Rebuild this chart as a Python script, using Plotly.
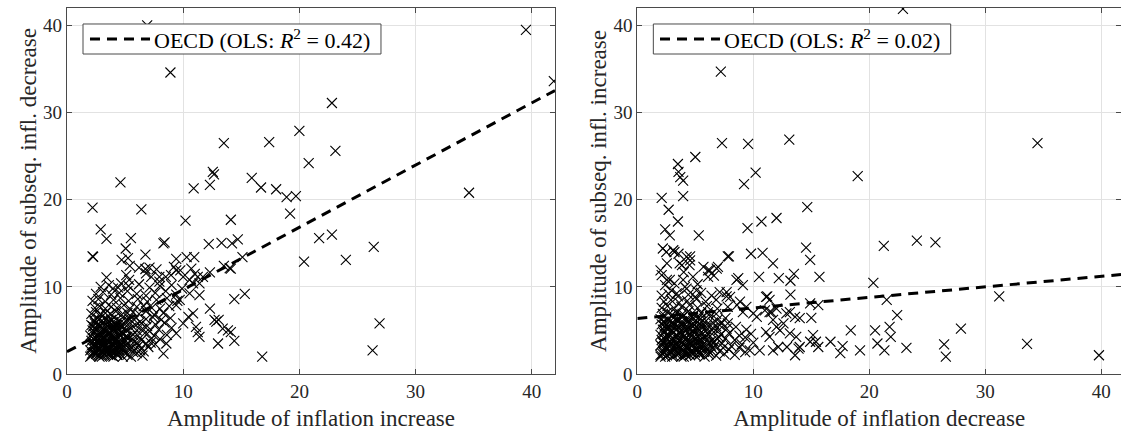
import plotly.graph_objects as go

# ---------------------------------------------------------------------------
# Episode amplitudes (percentage points)
# Left panel: inflation increase vs. amplitude of the subsequent decrease
# Right panel: inflation decrease vs. amplitude of the subsequent increase
# ---------------------------------------------------------------------------

inc_scattered = [
    (6.9, 40.0), (39.5, 39.5), (8.9, 34.6), (41.9, 33.6), (22.8, 31.1), (20.0, 27.9),
    (13.5, 26.5), (17.4, 26.6), (23.1, 25.6), (20.8, 24.2), (4.6, 22.0), (10.9, 21.3),
    (12.3, 21.7), (12.55, 23.2), (12.65, 22.9), (15.9, 22.5), (16.7, 21.4), (18.0, 21.2),
    (18.9, 20.3), (19.7, 20.4), (34.6, 20.8), (19.2, 18.4), (21.7, 15.6), (22.8, 16.0),
    (26.4, 14.6), (20.4, 12.9), (24.0, 13.1), (15.1, 13.4), (14.7, 15.45), (14.2, 15.0),
    (14.1, 17.7), (14.1, 12.1), (14.4, 8.6), (15.3, 9.2), (26.9, 5.8), (26.3, 2.7),
    (16.8, 2.0), (14.1, 4.8), (14.4, 3.8), (2.2, 19.1), (6.4, 18.9), (10.2, 17.6),
    (2.9, 16.6), (3.4, 15.5), (5.5, 15.6), (5.05, 14.4), (8.3, 15.0), (8.4, 15.1),
    (12.2, 14.9), (13.3, 15.05), (2.2, 13.5), (2.25, 13.45), (6.75, 13.7), (4.7, 13.1),
    (5.25, 13.3), (9.4, 13.2), (10.3, 13.4), (10.95, 13.4), (5.4, 12.4), (6.2, 12.2),
    (6.75, 12.05), (7.1, 12.2), (7.7, 12.0), (9.2, 12.3), (9.75, 11.9), (10.7, 12.1),
    (11.0, 11.5), (12.3, 11.65), (13.5, 12.4), (14.0, 12.15), (3.4, 11.1), (3.95, 9.8),
    (5.1, 11.35), (5.35, 10.8), (4.65, 10.4), (6.8, 11.55), (7.25, 11.15), (7.95, 11.15),
    (8.5, 11.15), (7.95, 10.6), (8.95, 11.35), (9.4, 11.9), (10.0, 11.15), (10.55, 10.8),
    (10.85, 10.4), (11.25, 11.15), (11.7, 11.15), (11.4, 10.4), (12.3, 7.5), (12.7, 6.2),
    (12.85, 6.0), (13.05, 6.2), (13.4, 5.2), (13.85, 5.0), (13.0, 3.5), (11.1, 5.4),
    (11.4, 4.25), (11.25, 4.8), (8.3, 2.35), (8.55, 3.5), (9.4, 4.65), (10.0, 5.8),
    (10.45, 6.55), (10.85, 6.95), (11.4, 9.05), (10.55, 9.25), (9.7, 8.5), (9.4, 7.9),
]

inc_cluster = [
    (2.1, 2.1), (2.5, 2.3), (2.8, 2.0), (3.2, 2.2), (3.6, 2.4), (3.9, 2.1), (4.3, 2.3),
    (4.8, 2.0), (5.2, 2.2), (5.7, 2.5),
    (2.0, 2.7), (2.3, 2.5), (2.7, 2.8), (3.0, 2.6), (3.4, 2.9), (3.8, 2.6), (4.1, 2.8),
    (4.5, 2.7), (4.9, 2.6), (5.4, 2.9), (6.0, 2.4), (6.6, 2.6),
    (2.2, 3.3), (2.5, 3.1), (2.9, 3.4), (3.3, 3.2), (3.6, 3.0), (4.0, 3.3), (4.4, 3.1),
    (4.7, 3.4), (5.1, 3.2), (5.6, 3.0), (6.2, 3.3), (7.0, 3.1), (7.6, 3.4),
    (2.1, 3.8), (2.4, 3.9), (2.8, 3.6), (3.1, 3.9), (3.5, 3.7), (3.9, 4.0), (4.2, 3.8),
    (4.6, 3.6), (5.0, 3.9), (5.3, 4.1), (5.8, 3.7), (6.4, 3.9), (7.2, 3.6), (8.0, 4.0),
    (2.0, 4.4), (2.3, 4.6), (2.6, 4.3), (3.0, 4.5), (3.4, 4.4), (3.7, 4.7), (4.1, 4.3),
    (4.5, 4.5), (4.8, 4.6), (5.2, 4.3), (5.7, 4.5), (6.1, 4.4), (6.7, 4.7), (7.5, 4.4),
    (8.6, 4.5),
    (2.2, 5.0), (2.5, 5.2), (2.9, 4.9), (3.2, 5.1), (3.6, 5.3), (4.0, 5.0), (4.3, 5.2),
    (4.7, 4.9), (5.1, 5.1), (5.5, 5.3), (6.0, 5.0), (6.5, 5.2), (7.1, 4.9), (7.9, 5.1),
    (9.0, 5.3),
    (2.1, 5.6), (2.4, 5.8), (2.8, 5.5), (3.1, 5.7), (3.5, 5.9), (3.9, 5.6), (4.2, 5.8),
    (4.6, 5.5), (5.0, 5.7), (5.4, 5.9), (5.9, 5.6), (6.4, 5.8), (6.9, 5.5), (7.6, 5.7),
    (8.4, 5.9),
    (2.3, 6.2), (2.6, 6.4), (3.0, 6.1), (3.4, 6.3), (3.8, 6.2), (4.1, 6.5), (4.5, 6.1),
    (4.9, 6.3), (5.3, 6.4), (5.8, 6.2), (6.3, 6.0), (6.8, 6.3), (7.4, 6.5), (8.1, 6.2),
    (8.9, 6.4),
    (2.1, 6.9), (2.5, 7.1), (2.9, 6.8), (3.3, 7.0), (3.7, 6.9), (4.2, 7.2), (4.7, 6.8),
    (5.2, 7.0), (5.7, 7.1), (6.2, 6.9), (6.8, 7.2), (7.5, 6.8), (8.3, 7.0),
    (2.4, 7.6), (2.8, 7.8), (3.3, 7.5), (3.8, 7.7), (4.3, 7.6), (4.9, 7.9), (5.4, 7.5),
    (6.0, 7.7), (6.6, 7.8), (7.3, 7.6), (8.0, 7.5), (8.8, 7.8),
    (2.2, 8.4), (2.7, 8.6), (3.3, 8.3), (4.0, 8.5), (4.6, 8.7), (5.3, 8.4), (6.1, 8.6),
    (6.9, 8.3), (7.7, 8.5), (8.6, 8.7), (9.5, 8.4),
    (2.5, 9.2), (3.1, 9.4), (3.8, 9.1), (4.5, 9.3), (5.2, 9.5), (6.0, 9.2), (6.8, 9.0),
    (7.6, 9.3), (8.5, 9.5), (9.4, 9.1),
    (2.9, 10.0), (3.6, 10.2), (4.4, 9.9), (5.3, 10.1), (6.2, 10.3), (7.1, 9.9), (8.0, 10.1),
    (9.0, 10.2), (9.9, 9.8),
]

# second, denser layer of the low-amplitude core
inc_core = [
    (2.3, 2.4), (2.7, 2.2), (3.1, 2.5), (3.5, 2.3), (3.9, 2.6), (4.3, 2.2), (2.2, 3.0),
    (2.6, 2.9), (3.0, 3.1), (3.4, 2.8), (3.8, 3.0), (4.2, 2.9), (4.6, 3.1), (2.4, 3.5),
    (2.8, 3.7), (3.2, 3.5), (3.6, 3.6), (4.0, 3.4), (4.4, 3.7), (2.5, 4.1), (2.9, 4.2),
    (3.3, 4.0), (3.7, 4.3), (4.1, 4.1),
    (2.15, 2.35), (2.55, 2.55), (2.95, 2.25), (3.35, 2.45), (3.75, 2.15), (4.15, 2.55),
    (4.55, 2.35), (4.95, 2.45), (2.35, 3.25), (2.75, 3.05), (3.15, 3.35), (3.55, 3.15),
    (3.95, 3.45), (4.35, 3.25), (4.75, 3.05), (5.15, 3.45), (2.25, 4.05), (2.65, 3.85),
    (3.05, 4.15), (3.45, 3.95), (3.85, 4.25), (4.25, 4.05), (4.65, 3.85), (5.05, 4.25),
    (2.35, 4.85), (2.75, 4.65), (3.15, 4.95), (3.55, 4.75), (3.95, 5.05), (4.35, 4.85),
    (4.75, 4.65), (5.15, 4.95), (2.25, 5.45), (2.65, 5.65), (3.05, 5.35), (3.45, 5.55),
    (3.85, 5.35), (4.25, 5.65), (4.65, 5.45), (2.35, 6.05), (2.75, 6.25), (3.15, 5.95),
    (3.55, 6.15), (3.95, 5.95), (5.6, 4.0), (6.0, 3.6), (5.9, 2.9), (6.3, 2.7),
    (6.8, 3.5), (7.3, 4.1), (5.5, 2.0), (6.5, 2.1), (2.0, 2.0), (3.0, 2.0), (4.0, 2.0),
]

dec_scattered = [
    (22.9, 41.9), (7.2, 34.7), (7.3, 26.5), (9.55, 26.4), (13.1, 26.9), (34.5, 26.5),
    (5.0, 24.9), (3.5, 24.1), (3.55, 23.2), (3.7, 22.6), (3.95, 22.2), (10.2, 23.1),
    (9.2, 21.8), (19.0, 22.7), (2.1, 20.2), (3.95, 20.4), (2.7, 18.85), (3.5, 17.5),
    (2.4, 16.6), (2.8, 15.9), (5.3, 15.9), (9.5, 16.75), (10.7, 17.5), (12.0, 17.9),
    (14.65, 19.15), (21.25, 14.7), (24.1, 15.3), (25.7, 15.1), (14.55, 14.5), (14.9, 13.1),
    (15.7, 11.15), (20.35, 10.45), (31.2, 8.9), (21.5, 8.5), (22.4, 6.75), (15.0, 6.45),
    (18.4, 5.0), (20.5, 5.0), (21.75, 5.4), (21.85, 4.25), (27.9, 5.2), (15.15, 4.45),
    (14.9, 3.7), (15.4, 3.7), (15.6, 3.1), (16.65, 3.7), (17.7, 3.2), (17.5, 2.4),
    (19.2, 2.7), (20.7, 3.5), (21.3, 2.7), (23.2, 3.0), (26.45, 3.4), (26.6, 2.0),
    (33.6, 3.45), (39.8, 2.15), (14.0, 6.4), (14.0, 3.1), (2.2, 14.4), (7.9, 13.5),
    (9.8, 13.8), (10.8, 13.9), (11.7, 12.7), (10.5, 11.15), (12.2, 11.0), (13.5, 11.5),
    (13.2, 10.7), (8.7, 11.0), (9.1, 10.2), (5.7, 12.3), (6.1, 11.9), (6.85, 12.1),
    (6.6, 11.3), (13.2, 9.1), (11.2, 8.9), (11.4, 8.5), (7.1, 9.4), (7.7, 8.9),
    (14.9, 8.1), (15.6, 7.9), (10.55, 2.7), (11.7, 2.7), (12.15, 3.1), (12.9, 3.1),
    (13.6, 2.15), (13.9, 2.9), (12.0, 5.4), (12.3, 5.0), (12.6, 5.8), (13.15, 4.65),
    (13.7, 4.25), (11.1, 4.8), (11.4, 4.25), (10.3, 6.55), (11.4, 7.1), (11.7, 6.2),
    (12.85, 6.95), (13.6, 6.55), (13.15, 7.1), (3.1, 14.2), (3.55, 13.8), (4.25, 13.45),
    (4.55, 13.5), (2.55, 12.7), (3.85, 12.5), (2.1, 11.35), (2.55, 10.8), (4.0, 11.7),
    (4.55, 13.05), (2.95, 9.6), (3.4, 9.25), (4.25, 9.8), (5.1, 9.6), (5.0, 8.85),
    (2.5, 14.0), (3.2, 14.0), (3.65, 12.7), (4.5, 12.5), (2.0, 11.9), (2.8, 10.8),
    (3.95, 10.8), (4.8, 11.15), (6.25, 11.9), (6.95, 12.3), (6.1, 11.15), (7.8, 13.5),
    (8.55, 10.8), (7.7, 9.4), (8.0, 8.85), (8.85, 8.3), (9.4, 7.7), (9.1, 7.1),
    (10.0, 6.95), (11.1, 8.85), (11.0, 7.3), (11.55, 7.1), (12.0, 7.5),
]

dec_cluster = [
    (2.0, 2.2), (2.4, 2.0), (2.7, 2.3), (3.1, 2.1), (3.5, 2.4), (3.8, 2.0), (4.2, 2.2),
    (4.6, 2.5), (5.0, 2.1), (5.4, 2.3), (5.8, 2.0), (6.3, 2.4), (6.8, 2.1), (7.5, 2.3),
    (8.4, 2.2), (9.3, 2.5),
    (2.2, 2.7), (2.5, 2.9), (2.9, 2.6), (3.3, 2.8), (3.6, 3.0), (4.0, 2.7), (4.4, 2.9),
    (4.8, 2.6), (5.2, 2.8), (5.6, 3.0), (6.1, 2.7), (6.5, 2.9), (7.1, 2.6), (7.9, 2.8),
    (8.8, 3.0), (9.7, 2.7),
    (2.0, 3.3), (2.3, 3.5), (2.7, 3.2), (3.0, 3.4), (3.4, 3.3), (3.8, 3.6), (4.1, 3.2),
    (4.5, 3.4), (4.9, 3.5), (5.3, 3.2), (5.7, 3.4), (6.2, 3.6), (6.7, 3.3), (7.3, 3.5),
    (8.1, 3.2), (9.0, 3.4), (10.0, 3.6),
    (2.1, 3.9), (2.5, 4.1), (2.8, 3.8), (3.2, 4.0), (3.6, 3.9), (3.9, 4.2), (4.3, 3.8),
    (4.7, 4.0), (5.1, 4.1), (5.5, 3.9), (5.9, 4.2), (6.4, 3.8), (6.9, 4.0), (7.6, 4.1),
    (8.4, 3.9), (9.3, 4.2),
    (2.0, 4.5), (2.3, 4.7), (2.6, 4.4), (3.0, 4.6), (3.4, 4.5), (3.7, 4.8), (4.1, 4.4),
    (4.5, 4.6), (4.9, 4.7), (5.3, 4.5), (5.7, 4.3), (6.1, 4.6), (6.6, 4.8), (7.2, 4.5),
    (7.9, 4.7), (8.8, 4.4), (9.8, 4.6),
    (2.2, 5.1), (2.5, 5.3), (2.9, 5.0), (3.2, 5.2), (3.6, 5.4), (4.0, 5.1), (4.4, 5.3),
    (4.8, 5.0), (5.2, 5.2), (5.6, 5.4), (6.0, 5.1), (6.5, 5.3), (7.0, 5.0), (7.7, 5.2),
    (8.5, 5.4), (9.4, 5.1),
    (2.1, 5.7), (2.4, 5.9), (2.8, 5.6), (3.1, 5.8), (3.5, 6.0), (3.9, 5.7), (4.3, 5.9),
    (4.7, 5.6), (5.1, 5.8), (5.5, 6.0), (6.0, 5.7), (6.5, 5.9), (7.1, 5.6), (7.8, 5.8),
    (2.0, 6.3), (2.3, 6.5), (2.7, 6.2), (3.1, 6.4), (3.5, 6.3), (3.9, 6.6), (4.3, 6.2),
    (4.8, 6.4), (5.3, 6.5), (5.8, 6.3), (6.3, 6.6), (6.9, 6.2), (7.6, 6.4),
    (2.2, 6.9), (2.6, 7.1), (3.0, 6.8), (3.4, 7.0), (3.9, 6.9), (4.4, 7.2), (4.9, 6.8),
    (5.5, 7.0), (6.1, 7.1), (6.8, 6.9),
    (2.1, 7.6), (2.6, 7.8), (3.2, 7.5), (3.8, 7.7), (4.5, 7.9), (5.2, 7.6), (6.0, 7.8),
    (6.9, 7.5), (7.8, 7.7), (8.6, 7.9),
    (2.3, 8.3), (2.9, 8.5), (3.6, 8.2), (4.3, 8.4), (5.1, 8.6), (5.9, 8.3), (6.8, 8.5),
    (2.1, 9.0), (2.7, 9.2), (3.5, 8.9), (4.4, 9.1), (5.5, 9.3), (6.4, 9.0),
    (2.4, 10.2), (3.2, 10.4), (4.1, 10.0), (5.2, 10.3),
]

# second, denser layer of the low-amplitude core
dec_core = [
    (2.3, 2.4), (2.9, 2.5), (3.5, 2.3), (4.1, 2.6), (4.7, 2.4), (5.3, 2.5), (2.5, 3.0),
    (3.1, 3.1), (3.7, 2.9), (4.3, 3.2), (4.9, 3.0), (5.5, 3.1), (2.2, 3.6), (2.8, 3.7),
    (3.4, 3.5), (4.0, 3.8), (4.6, 3.6), (5.2, 3.7), (2.4, 4.9), (3.0, 5.0), (3.6, 4.8),
    (4.2, 5.1), (4.8, 4.9), (5.4, 5.0),
    (2.15, 2.35), (2.55, 2.15), (2.95, 2.45), (3.35, 2.25), (3.75, 2.55), (4.15, 2.35),
    (4.55, 2.15), (4.95, 2.45), (5.35, 2.25), (5.75, 2.55), (6.15, 2.25), (2.35, 3.05),
    (2.75, 3.25), (3.15, 2.95), (3.55, 3.15), (3.95, 3.35), (4.35, 3.05), (4.75, 3.25),
    (5.15, 2.95), (5.55, 3.25), (5.95, 3.05), (6.35, 3.25), (2.25, 4.15), (2.65, 4.35),
    (3.05, 4.05), (3.45, 4.25), (3.85, 4.45), (4.25, 4.15), (4.65, 4.35), (5.05, 4.05),
    (5.45, 4.35), (5.85, 4.15), (6.25, 4.35), (2.35, 5.45), (2.75, 5.25), (3.15, 5.55),
    (3.55, 5.35), (3.95, 5.55), (4.35, 5.25), (4.75, 5.45), (5.15, 5.35), (5.55, 5.55),
    (5.95, 5.35), (2.25, 6.05), (2.65, 6.25), (3.05, 5.95), (3.45, 6.15), (3.85, 6.05),
    (4.25, 6.35), (4.65, 6.05), (5.05, 6.15), (5.45, 6.35), (2.0, 2.0), (3.0, 2.0),
    (4.0, 2.0), (6.6, 3.7), (7.0, 4.3), (6.8, 5.5), (7.3, 5.9), (7.4, 3.0),
]

# OLS fits (intercept, slope) and reported R^2
inc_fit = (2.55, 0.714)
dec_fit = (6.37, 0.121)
inc_r2 = "0.42"
dec_r2 = "0.02"

x_titles = ["Amplitude of inflation increase", "Amplitude of inflation decrease"]
y_titles = ["Amplitude of subseq. infl. decrease", "Amplitude of subseq. infl. increase"]
tick_values = [0, 10, 20, 30, 40]

FONT = "Liberation Serif"
TEXT = "#262626"
FRAME = "#4a4a4a"

fig = go.Figure()

panels = [
    (inc_scattered + inc_cluster + inc_core, inc_fit, "x", "y", [0, 42]),
    (dec_scattered + dec_cluster + dec_core, dec_fit, "x2", "y2", [0, 41.7]),
]

for pts, (b0, b1), xa, ya, xr in panels:
    xs = [p[0] for p in pts]
    ys = [p[1] for p in pts]
    fig.add_trace(go.Scatter(
        x=xs, y=ys, mode="markers", xaxis=xa, yaxis=ya, showlegend=False,
        marker=dict(symbol="x-thin-open", size=10, color="black",
                    line=dict(width=1.1, color="rgba(0,0,0,0.9)")),
        hoverinfo="skip",
    ))
    line_x = [xr[0], xr[1]]
    line_y = [b0 + b1 * v for v in line_x]
    fig.add_trace(go.Scatter(
        x=line_x, y=line_y, mode="lines", xaxis=xa, yaxis=ya, showlegend=False,
        line=dict(color="black", width=3, dash="10px,7px"),
        hoverinfo="skip",
    ))

axis_common = dict(
    showline=True, linecolor=FRAME, linewidth=1.2, mirror="ticks",
    ticks="inside", ticklen=5, tickcolor=FRAME, tickwidth=1,
    showgrid=True, gridcolor="#e2e2e2", gridwidth=1, zeroline=False,
    tickvals=tick_values,
    tickfont=dict(family=FONT, size=19, color=TEXT),
)
title_font = dict(family=FONT, size=23, color=TEXT)

fig.update_layout(
    width=1121, height=431,
    margin=dict(l=67, r=0, t=8, b=57),
    paper_bgcolor="white", plot_bgcolor="white",
    xaxis=dict(domain=[0, 0.463], range=[0, 42], anchor="y",
               title=dict(text=x_titles[0], font=title_font, standoff=8),
               **axis_common),
    yaxis=dict(domain=[0, 1], range=[0, 42], anchor="x",
               title=dict(text=y_titles[0], font=title_font, standoff=0),
               **axis_common),
    xaxis2=dict(domain=[0.5411, 1.0], range=[0, 41.7], anchor="y2",
                title=dict(text=x_titles[1], font=title_font, standoff=8),
                **axis_common),
    yaxis2=dict(domain=[0, 1], range=[0, 42], anchor="x2",
                title=dict(text=y_titles[1], font=title_font, standoff=0),
                **axis_common),
)

# Legend boxes drawn inside each panel
legend_geom = [
    ("x domain", "y domain", 0.0328, 0.6434, 0.0471, 0.1701, 0.1742, inc_r2),
    ("x2 domain", "y2 domain", 0.0331, 0.6479, 0.0469, 0.1709, 0.1750, dec_r2),
]
for xref, yref, bx0, bx1, lx0, lx1, tx, r2 in legend_geom:
    fig.add_shape(type="rect", xref=xref, yref=yref, x0=bx0, x1=bx1, y0=0.8743, y1=0.9563,
                  fillcolor="white", line=dict(color=FRAME, width=1), layer="above")
    fig.add_shape(type="line", xref=xref, yref=yref, x0=lx0, x1=lx1, y0=0.9153, y1=0.9153,
                  line=dict(color="black", width=3, dash="10px,7px"), layer="above")
    fig.add_annotation(xref=xref, yref=yref, x=tx, y=0.9153, xanchor="left", yanchor="middle",
                       showarrow=False,
                       text=f"OECD (OLS: <i>R</i><sup>2</sup> = {r2})",
                       font=dict(family=FONT, size=22, color="black"))

fig.write_html("out.html")
